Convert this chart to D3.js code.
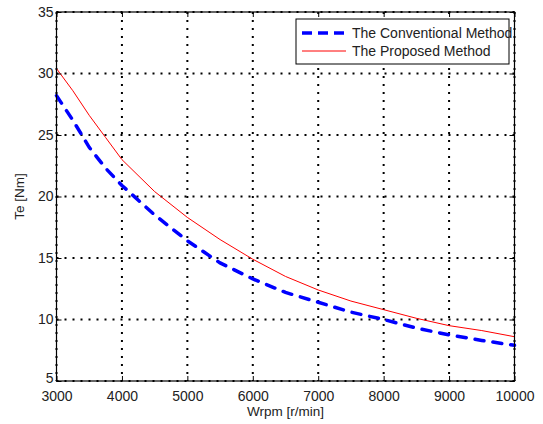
<!DOCTYPE html>
<html>
<head>
<meta charset="utf-8">
<script src="https://cdn.jsdelivr.net/npm/d3@7"></script>
<style>
  body { margin: 0; background: #fff; }
  text { font-family: "Liberation Sans", Arial, sans-serif; fill: #222; }
</style>
</head>
<body>
<div id="chart"></div>
<script>
// speed points [r/min]
var rpm = [3000, 3250, 3500, 3750, 4000, 4500, 5000, 5500, 6000, 6500, 7000, 7500, 8000, 8500, 9000, 9500, 10000];
// torque [Nm]
var conventional = [28.2, 26.2, 24.0, 22.3, 20.9, 18.5, 16.4, 14.6, 13.3, 12.2, 11.4, 10.6, 10.0, 9.3, 8.75, 8.3, 7.9];
var proposed = [30.4, 28.6, 26.6, 24.8, 23.0, 20.4, 18.3, 16.5, 14.9, 13.5, 12.4, 11.5, 10.8, 10.1, 9.5, 9.1, 8.6];
var xTicks = [3000, 4000, 5000, 6000, 7000, 8000, 9000, 10000];
var yTicks = [5, 10, 15, 20, 25, 30, 35];
var seriesNames = ["The Conventional Method", "The Proposed Method"];

var W = 543, H = 424;
var m = {left: 56.5, right: 28.5, top: 12, bottom: 43};
var iw = W - m.left - m.right, ih = H - m.top - m.bottom;

var svg = d3.select("#chart").append("svg")
    .attr("width", W).attr("height", H);

var x = d3.scaleLinear().domain([3000, 10000]).range([0, iw]);
var y = d3.scaleLinear().domain([5, 35]).range([ih, 0]);

var g = svg.append("g").attr("transform", "translate(" + m.left + "," + m.top + ")");

// dotted grid
g.selectAll(".vgrid").data(xTicks).enter().append("line")
    .attr("x1", d => x(d)).attr("x2", d => x(d))
    .attr("y1", 0).attr("y2", ih)
    .attr("stroke", "#000").attr("stroke-width", 2)
    .attr("stroke-dasharray", "2,6");
g.selectAll(".hgrid").data(yTicks).enter().append("line")
    .attr("y1", d => y(d)).attr("y2", d => y(d))
    .attr("x1", 0).attr("x2", iw)
    .attr("stroke", "#000").attr("stroke-width", 2)
    .attr("stroke-dasharray", "2,6");

// lines
var pts = function (vals) { return rpm.map((r, i) => [r, vals[i]]); };
var line = d3.line().x(d => x(d[0])).y(d => y(d[1]));

g.append("path").datum(pts(proposed))
    .attr("d", line).attr("fill", "none")
    .attr("stroke", "#ff0000").attr("stroke-width", 1);

g.append("path").datum(pts(conventional))
    .attr("d", line).attr("fill", "none")
    .attr("stroke", "#0000ff").attr("stroke-width", 3.5)
    .attr("stroke-linecap", "round")
    .attr("stroke-dasharray", "9,9");

// frame
g.append("rect").attr("width", iw).attr("height", ih)
    .attr("fill", "none").attr("stroke", "#000").attr("stroke-width", 1.2);

// axes, ticks pointing inward
var xAxis = g.append("g").attr("transform", "translate(0," + ih + ")")
    .call(d3.axisBottom(x).tickValues(xTicks).tickFormat(d3.format("d"))
      .tickSizeInner(-5).tickSizeOuter(0).tickPadding(10));
var xTop = g.append("g")
    .call(d3.axisTop(x).tickValues(xTicks).tickSizeInner(-5).tickSizeOuter(0).tickFormat(""));
var yAxis = g.append("g")
    .call(d3.axisLeft(y).tickValues(yTicks).tickSizeInner(-5).tickSizeOuter(0).tickPadding(3));
var yRight = g.append("g").attr("transform", "translate(" + iw + ",0)")
    .call(d3.axisRight(y).tickValues(yTicks).tickSizeInner(-5).tickSizeOuter(0).tickFormat(""));

[xAxis, xTop, yAxis, yRight].forEach(function (a) {
  a.select(".domain").remove();
  a.selectAll("line").attr("stroke", "#000");
  a.selectAll("text").style("font-size", "14px").attr("fill", "#222")
    .style("font-family", "Liberation Sans, Arial, sans-serif");
});
// lift the lowest y label a little so it clears "3000"
yAxis.selectAll(".tick text").filter(d => d === 5).attr("dy", "0.1em");

// axis titles
svg.append("text").attr("x", m.left + iw / 2).attr("y", 416)
    .attr("text-anchor", "middle").style("font-size", "13.5px").text("Wrpm [r/min]");
svg.append("text")
    .attr("transform", "translate(24," + (m.top + ih / 2) + ") rotate(-90)")
    .attr("text-anchor", "middle").style("font-size", "13.5px").text("Te [Nm]");

// legend
var lg = svg.append("g").attr("transform", "translate(296,19)");
lg.append("rect").attr("width", 213).attr("height", 45)
    .attr("fill", "#fff").attr("stroke", "#000").attr("stroke-width", 1);
lg.append("line").attr("x1", 6).attr("x2", 50).attr("y1", 14).attr("y2", 14)
    .attr("stroke", "#0000ff").attr("stroke-width", 3.5)
    .attr("stroke-dasharray", "10,6");
lg.append("line").attr("x1", 6).attr("x2", 50).attr("y1", 32).attr("y2", 32)
    .attr("stroke", "#ff0000").attr("stroke-width", 1);
lg.selectAll(".lt").data(seriesNames).enter().append("text")
    .attr("x", 56).attr("y", (d, i) => 19 + i * 18)
    .style("font-size", "14px").text(d => d);
</script>
</body>
</html>
